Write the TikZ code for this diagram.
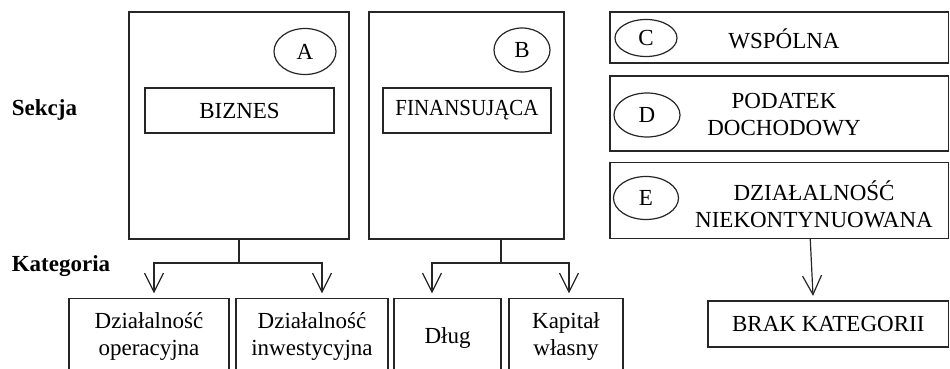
\documentclass[tikz,border=0pt]{standalone}
\usepackage{fontspec}
\setmainfont{Liberation Serif}
\usetikzlibrary{arrows.meta,shapes.geometric}
\definecolor{ink}{gray}{0.15}
\begin{document}
\begin{tikzpicture}[x=1pt,y=-1pt,
  txt/.style={font=\fontsize{23}{27}\selectfont, inner sep=0pt, align=center, text=black},
  box/.style={draw=ink, line width=1.2pt, inner sep=0pt, align=center,
    font=\fontsize{23}{27}\selectfont},
  tag/.style={draw=ink, ellipse, line width=1.2pt, inner sep=0pt,
    font=\fontsize{23}{27}\selectfont},
  lbl/.style={font=\fontsize{23}{27}\selectfont\bfseries, inner sep=0pt},
  wire/.style={draw=ink, line width=1.2pt},
  link/.style={wire, shorten >=4.5pt,
    -{Straight Barb[length=19pt,width=19pt,line width=1.2pt]}},
]
\useasboundingbox (0,0) rectangle (950,369);
\clip (0,0) rectangle (950,369);

% row labels
\node[lbl] (sekcja) at (44.5,110) {Sekcja};
\node[lbl] (kategoria) at (61,266) {Kategoria};

% section A
\node[box, minimum width=220pt, minimum height=227pt] (secA) at (239,125.5) {};
\node[tag, minimum width=62pt, minimum height=46pt] (tagA) at (305,51.5) {A};
\node[box, minimum width=189pt, minimum height=45pt] (biz) at (239.5,110.5) {BIZNES};

% section B
\node[box, minimum width=195pt, minimum height=227pt] (secB) at (466.5,125.5) {};
\node[tag, minimum width=56pt, minimum height=44pt] (tagB) at (522,50) {B};
\node[box, minimum width=168pt, minimum height=45pt] (fin) at (467,110.5)
  {\scalebox{0.91}[1]{FINANSUJĄCA}};

% sections C, D, E
\node[box, minimum width=338.5pt, minimum height=51pt] (secC) at (779.25,37.5) {};
\node[tag, minimum width=62pt, minimum height=37pt] (tagC) at (646,38) {C};
\node[txt] (wsp) at (784,39) {WSPÓLNA};

\node[box, minimum width=338.5pt, minimum height=75pt] (secD) at (779.25,113.5) {};
\node[tag, minimum width=66pt, minimum height=44pt] (tagD) at (647,115) {D};
\node[txt] (pod) at (784,115) {PODATEK\\DOCHODOWY};

\node[box, minimum width=338.5pt, minimum height=76pt] (secE) at (779.25,200.5) {};
\node[tag, minimum width=65pt, minimum height=43pt] (tagE) at (646,198) {E};
\node[txt] (dzn) at (814,204) {DZIAŁALNOŚĆ\\NIEKONTYNUOWANA};

% categories
\node[box, minimum width=160pt, minimum height=81.5pt] (ops) at (149,339.25) {};
\node[box, minimum width=152pt, minimum height=81.5pt] (inv) at (312,339.25) {};
\node[box, minimum width=107pt, minimum height=81.5pt] (debt) at (447.5,339.25) {};
\node[box, minimum width=114pt, minimum height=81.5pt] (eq) at (566,339.25) {};
\node[box, minimum width=240.5pt, minimum height=46pt] (none) at (828.25,324) {BRAK KATEGORII};

\node[txt] (opsT) at (149,336) {Działalność\\operacyjna};
\node[txt] (invT) at (312,336) {Działalność\\inwestycyjna};
\node[txt] (debtT) at (447.5,338) {Dług};
\node[txt] (eqT) at (566,336) {Kapitał\\własny};

% connectors
\coordinate (jA) at (239,263);
\draw[wire] (secA.south) -- (jA);
\draw[link] (jA) -| ([xshift=5pt]ops.north);
\draw[link] (jA) -| ([xshift=10pt]inv.north);

\coordinate (jB) at (501,263);
\draw[wire] ([xshift=34.5pt]secB.south) -- (jB);
\draw[link] (jB) -| ([xshift=-15.5pt]debt.north);
\draw[link] (jB) -| ([xshift=3pt]eq.north);

\draw[link] ([xshift=31pt]secE.south) -- ([xshift=-15pt]none.north);
\end{tikzpicture}
\end{document}
